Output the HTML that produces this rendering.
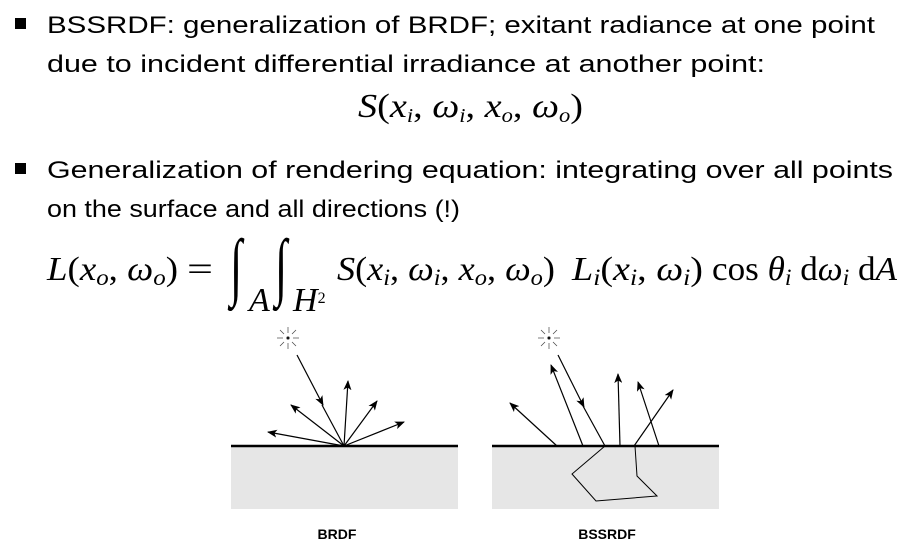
<!DOCTYPE html>
<html><head><meta charset="utf-8"><style>
html,body{margin:0;padding:0;background:#fff;width:918px;height:552px;overflow:hidden}
svg{display:block}
.t{font-family:"Liberation Sans",sans-serif;font-size:24px;fill:#000}
.m{font-family:"Liberation Serif",serif;font-size:34px;fill:#000}
.i{font-style:italic}
</style></head><body>
<svg width="918" height="552" viewBox="0 0 918 552" xmlns="http://www.w3.org/2000/svg">
<defs>
<marker id="ah" markerWidth="10" markerHeight="8" refX="9" refY="4" orient="auto" markerUnits="userSpaceOnUse">
<path d="M0,0 L10,4 L0,8 L2.5,4 Z" fill="#000"/>
</marker>
</defs>
<rect x="15" y="18" width="11" height="11" fill="#000"/>
<text class="t" x="47" y="33" textLength="828" lengthAdjust="spacingAndGlyphs">BSSRDF: generalization of BRDF; exitant radiance at one point</text>
<text class="t" x="47" y="72" textLength="718" lengthAdjust="spacingAndGlyphs">due to incident differential irradiance at another point:</text>
<text class="m i" x="358" y="117" font-size="30" textLength="225" lengthAdjust="spacingAndGlyphs">S<tspan font-style="normal">(</tspan>x<tspan font-size="20" dy="5">i</tspan><tspan font-style="normal" dy="-5">, </tspan>ω<tspan font-size="20" dy="5">i</tspan><tspan font-style="normal" dy="-5">, </tspan>x<tspan font-size="20" dy="5">o</tspan><tspan font-style="normal" dy="-5">, </tspan>ω<tspan font-size="20" dy="5">o</tspan><tspan font-style="normal" dy="-5">)</tspan></text>

<rect x="15" y="163" width="11" height="11" fill="#000"/>
<text class="t" x="47" y="178" textLength="846" lengthAdjust="spacingAndGlyphs">Generalization of rendering equation: integrating over all points</text>
<text class="t" x="47" y="217" textLength="413" lengthAdjust="spacingAndGlyphs">on the surface and all directions (!)</text>

<text class="m i" x="47" y="280" textLength="131" lengthAdjust="spacingAndGlyphs">L<tspan font-style="normal">(</tspan>x<tspan font-size="23" dy="5">o</tspan><tspan font-style="normal" dy="-5">, </tspan>ω<tspan font-size="23" dy="5">o</tspan><tspan font-style="normal" dy="-5">)</tspan></text>
<text class="m" x="187" y="280" textLength="26" lengthAdjust="spacingAndGlyphs">=</text>
<text class="m" x="0" y="0" transform="translate(230,291) scale(1.3,2.2)" font-size="38">∫</text>
<text class="m i" x="249" y="311" font-size="23">A</text>
<text class="m" x="0" y="0" transform="translate(275,291) scale(1.3,2.2)" font-size="38">∫</text>
<text class="m i" x="293" y="311" font-size="23">H<tspan font-style="normal" font-size="16" dy="-8">2</tspan></text>
<text class="m i" x="337" y="280" textLength="218" lengthAdjust="spacingAndGlyphs">S<tspan font-style="normal">(</tspan>x<tspan font-size="23" dy="5">i</tspan><tspan font-style="normal" dy="-5">, </tspan>ω<tspan font-size="23" dy="5">i</tspan><tspan font-style="normal" dy="-5">, </tspan>x<tspan font-size="23" dy="5">o</tspan><tspan font-style="normal" dy="-5">, </tspan>ω<tspan font-size="23" dy="5">o</tspan><tspan font-style="normal" dy="-5">)</tspan></text>
<text class="m i" x="572" y="280" textLength="131" lengthAdjust="spacingAndGlyphs">L<tspan font-size="23" dy="5">i</tspan><tspan font-style="normal" dy="-5">(</tspan>x<tspan font-size="23" dy="5">i</tspan><tspan font-style="normal" dy="-5">, </tspan>ω<tspan font-size="23" dy="5">i</tspan><tspan font-style="normal" dy="-5">)</tspan></text>
<text class="m" x="712" y="280" textLength="185" lengthAdjust="spacingAndGlyphs">cos <tspan font-style="italic">θ</tspan><tspan font-style="italic" font-size="23" dy="5">i</tspan><tspan dy="-5"> d</tspan><tspan font-style="italic">ω</tspan><tspan font-style="italic" font-size="23" dy="5">i</tspan><tspan dy="-5"> d</tspan><tspan font-style="italic">A</tspan></text>

<!-- BRDF -->
<rect x="231" y="446" width="227" height="63" fill="#e6e6e6"/>
<line x1="231" y1="446" x2="458" y2="446" stroke="#000" stroke-width="2.5"/>
<g stroke="#000" stroke-width="1.2" fill="none">
<line x1="297" y1="355" x2="323" y2="405" marker-end="url(#ah)"/>
<line x1="322" y1="405" x2="344" y2="446"/>
<line x1="344" y1="446" x2="268" y2="432" marker-end="url(#ah)"/>
<line x1="344" y1="446" x2="291" y2="405" marker-end="url(#ah)"/>
<line x1="344" y1="446" x2="348" y2="381" marker-end="url(#ah)"/>
<line x1="344" y1="446" x2="377" y2="401" marker-end="url(#ah)"/>
<line x1="344" y1="446" x2="404" y2="422" marker-end="url(#ah)"/>
</g>
<g stroke="#444" stroke-width="0.7">
<circle cx="288" cy="338" r="1.3" fill="#000"/>
<line x1="288" y1="327" x2="288" y2="333"/><line x1="288" y1="343" x2="288" y2="349"/>
<line x1="277" y1="338" x2="283" y2="338"/><line x1="293" y1="338" x2="299" y2="338"/>
<line x1="280" y1="330" x2="284" y2="334"/><line x1="292" y1="342" x2="296" y2="346"/>
<line x1="296" y1="330" x2="292" y2="334"/><line x1="284" y1="342" x2="280" y2="346"/>
</g>
<text x="337" y="539" text-anchor="middle" font-family="Liberation Sans,sans-serif" font-weight="bold" font-size="14">BRDF</text>

<!-- BSSRDF -->
<rect x="492" y="446" width="227" height="63" fill="#e6e6e6"/>
<line x1="492" y1="446" x2="719" y2="446" stroke="#000" stroke-width="2.5"/>
<g stroke="#000" stroke-width="1.2" fill="none">
<line x1="558" y1="355" x2="584" y2="407" marker-end="url(#ah)"/>
<line x1="583" y1="406" x2="605" y2="446"/>
<line x1="557" y1="446" x2="510" y2="403" marker-end="url(#ah)"/>
<line x1="583" y1="446" x2="551" y2="365" marker-end="url(#ah)"/>
<line x1="620" y1="446" x2="618" y2="374" marker-end="url(#ah)"/>
<line x1="659" y1="446" x2="638" y2="382" marker-end="url(#ah)"/>
<line x1="634" y1="446" x2="673" y2="390" marker-end="url(#ah)"/>
<polyline points="605,446 572,474 596,501 657,496 637,476 635,446" stroke-width="1"/>
</g>
<g stroke="#444" stroke-width="0.7">
<circle cx="549" cy="338" r="1.3" fill="#000"/>
<line x1="549" y1="327" x2="549" y2="333"/><line x1="549" y1="343" x2="549" y2="349"/>
<line x1="538" y1="338" x2="544" y2="338"/><line x1="554" y1="338" x2="560" y2="338"/>
<line x1="541" y1="330" x2="545" y2="334"/><line x1="553" y1="342" x2="557" y2="346"/>
<line x1="557" y1="330" x2="553" y2="334"/><line x1="545" y1="342" x2="541" y2="346"/>
</g>
<text x="607" y="539" text-anchor="middle" font-family="Liberation Sans,sans-serif" font-weight="bold" font-size="14">BSSRDF</text>
</svg>
</body></html>
